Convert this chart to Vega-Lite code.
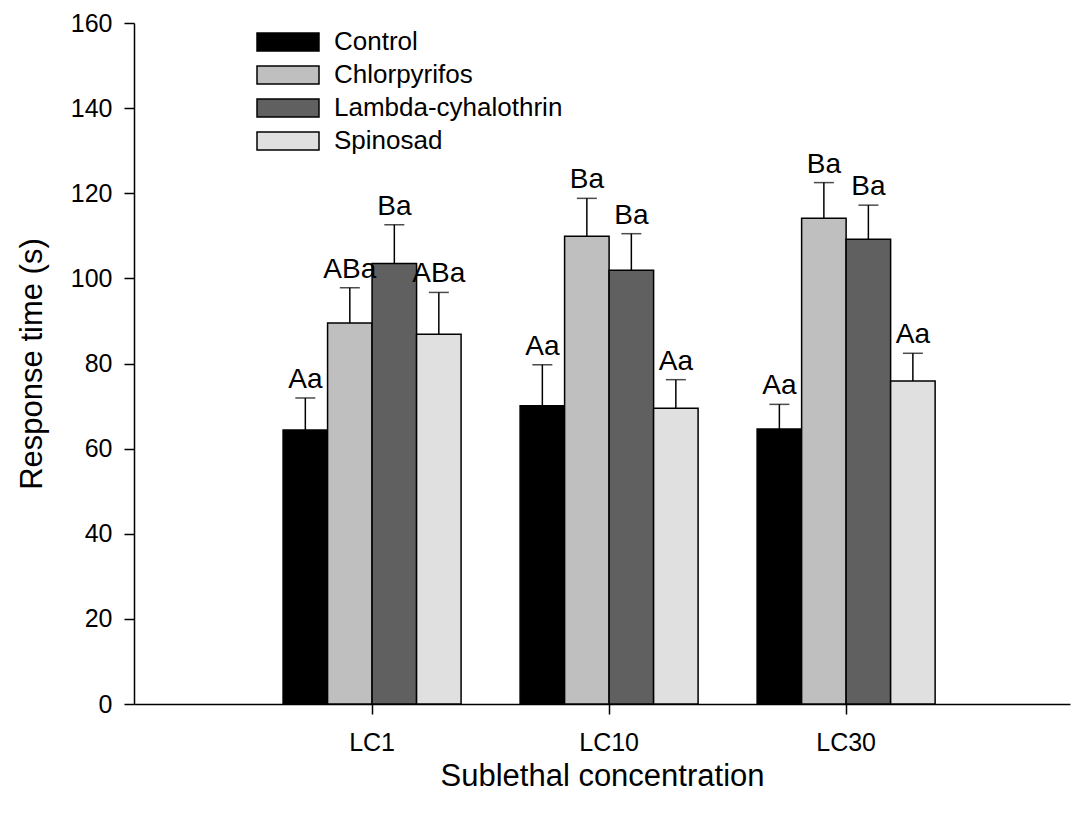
{
  "$schema": "https://vega.github.io/schema/vega-lite/v6.json",
  "width": 936,
  "height": 681,
  "autosize": {"type": "none"},
  "padding": {"left": 134, "top": 23, "right": 2, "bottom": 112},
  "background": "white",
  "config": {
    "view": {"stroke": null},
    "font": "Liberation Sans",
    "axis": {
      "grid": false,
      "domainColor": "black",
      "domainWidth": 1.5,
      "tickColor": "black",
      "tickWidth": 1.5,
      "tickSize": 10,
      "labelColor": "black",
      "titleColor": "black",
      "labelFontSize": 25,
      "titleFontSize": 31,
      "titleFontWeight": "normal",
      "labelFont": "Liberation Sans",
      "titleFont": "Liberation Sans"
    }
  },
  "data": {
    "values": [
      {"conc": "LC1", "treatment": "Control", "mean": 64.4, "upper": 71.9, "label": "Aa"},
      {"conc": "LC1", "treatment": "Chlorpyrifos", "mean": 89.5, "upper": 97.8, "label": "ABa"},
      {"conc": "LC1", "treatment": "Lambda-cyhalothrin", "mean": 103.5, "upper": 112.6, "label": "Ba"},
      {"conc": "LC1", "treatment": "Spinosad", "mean": 86.9, "upper": 96.7, "label": "ABa"},
      {"conc": "LC10", "treatment": "Control", "mean": 70.1, "upper": 79.7, "label": "Aa"},
      {"conc": "LC10", "treatment": "Chlorpyrifos", "mean": 109.9, "upper": 118.8, "label": "Ba"},
      {"conc": "LC10", "treatment": "Lambda-cyhalothrin", "mean": 101.9, "upper": 110.5, "label": "Ba"},
      {"conc": "LC10", "treatment": "Spinosad", "mean": 69.5, "upper": 76.2, "label": "Aa"},
      {"conc": "LC30", "treatment": "Control", "mean": 64.6, "upper": 70.4, "label": "Aa"},
      {"conc": "LC30", "treatment": "Chlorpyrifos", "mean": 114.1, "upper": 122.5, "label": "Ba"},
      {"conc": "LC30", "treatment": "Lambda-cyhalothrin", "mean": 109.2, "upper": 117.2, "label": "Ba"},
      {"conc": "LC30", "treatment": "Spinosad", "mean": 75.9, "upper": 82.4, "label": "Aa"}
    ]
  },
  "encoding": {
    "x": {
      "field": "conc",
      "type": "nominal",
      "sort": ["LC1", "LC10", "LC30"],
      "scale": {"paddingInner": 0.249, "paddingOuter": 0.599, "align": 0.525},
      "axis": {"title": "Sublethal concentration", "labelAngle": 0, "labelPadding": 16, "titlePadding": 6}
    },
    "xOffset": {
      "field": "treatment",
      "type": "nominal",
      "sort": ["Control", "Chlorpyrifos", "Lambda-cyhalothrin", "Spinosad"],
      "scale": {"paddingInner": 0, "paddingOuter": 0}
    }
  },
  "layer": [
    {
      "mark": {"type": "bar", "stroke": "black", "strokeWidth": 1.5},
      "encoding": {
        "y": {
          "field": "mean",
          "type": "quantitative",
          "title": "Response time (s)",
          "scale": {"domain": [0, 160], "nice": false},
          "axis": {"values": [0, 20, 40, 60, 80, 100, 120, 140, 160], "labelPadding": 12, "titlePadding": 22}
        },
        "color": {
          "field": "treatment",
          "type": "nominal",
          "sort": ["Control", "Chlorpyrifos", "Lambda-cyhalothrin", "Spinosad"],
          "scale": {
            "domain": ["Control", "Chlorpyrifos", "Lambda-cyhalothrin", "Spinosad"],
            "range": ["#000000", "#bfbfbf", "#606060", "#e0e0e0"]
          },
          "legend": {
            "orient": "none",
            "legendX": 122,
            "legendY": 9,
            "title": null,
            "padding": 0,
            "symbolType": "M-1,-0.29H1V0.29H-1Z",
            "symbolSize": 3844,
            "symbolStrokeColor": "black",
            "symbolStrokeWidth": 1.5,
            "symbolOpacity": 1,
            "labelFontSize": 26,
            "labelFont": "Liberation Sans",
            "labelColor": "black",
            "labelOffset": 14,
            "labelLimit": 0,
            "clipHeight": 20,
            "rowPadding": 7
          }
        }
      }
    },
    {
      "mark": {"type": "rule", "color": "black", "strokeWidth": 1.5},
      "encoding": {
        "y": {"field": "mean", "type": "quantitative", "title": "Response time (s)"},
        "y2": {"field": "upper"}
      }
    },
    {
      "mark": {"type": "tick", "color": "black", "size": 20, "thickness": 1.5, "orient": "horizontal"},
      "encoding": {
        "y": {"field": "upper", "type": "quantitative", "title": "Response time (s)"}
      }
    },
    {
      "mark": {"type": "text", "fontSize": 28, "font": "Liberation Sans", "baseline": "alphabetic", "dy": -10, "color": "black"},
      "encoding": {
        "y": {"field": "upper", "type": "quantitative", "title": "Response time (s)"},
        "text": {"field": "label"}
      }
    }
  ]
}
